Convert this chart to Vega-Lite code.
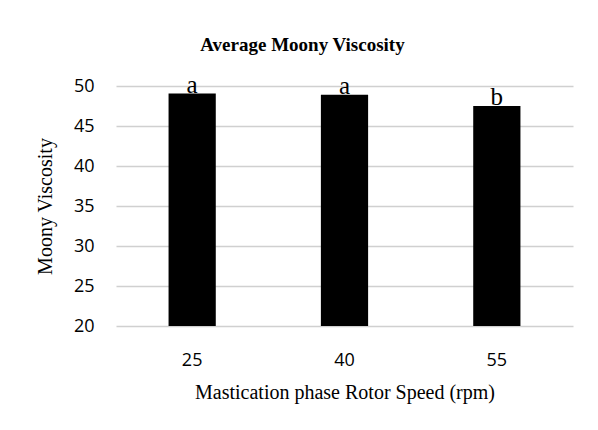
{
  "$schema": "https://vega.github.io/schema/vega-lite/v6.json",
  "width": 457,
  "height": 240,
  "autosize": {"type": "none"},
  "padding": {"left": 116, "top": 86, "right": 25, "bottom": 104},
  "background": "white",
  "title": {
    "text": "Average Moony Viscosity",
    "font": "Liberation Serif",
    "fontSize": 19,
    "fontWeight": "bold",
    "color": "#000000",
    "anchor": "middle",
    "dx": -42,
    "offset": 18
  },
  "data": {
    "values": [
      {"speed": "25", "viscosity": 49.05, "group": "a"},
      {"speed": "40", "viscosity": 48.9, "group": "a"},
      {"speed": "55", "viscosity": 47.5, "group": "b"}
    ]
  },
  "encoding": {
    "x": {
      "field": "speed",
      "type": "nominal",
      "sort": null,
      "scale": {"paddingInner": 0.69, "paddingOuter": 0.345},
      "axis": {
        "title": "Mastication phase Rotor Speed (rpm)",
        "titleFont": "Liberation Serif",
        "titleFontSize": 20,
        "titleFontWeight": "normal",
        "titleColor": "#000000",
        "titlePadding": 13,
        "labelFont": "Open Sans",
        "labelFontSize": 18,
        "labelColor": "#000000",
        "labelAngle": 0,
        "labelPadding": 25,
        "ticks": false,
        "domain": false
      }
    },
    "y": {
      "field": "viscosity",
      "type": "quantitative",
      "scale": {"domain": [20, 50], "zero": false, "nice": false, "clamp": true},
      "axis": {
        "title": "Moony Viscosity",
        "titleFont": "Liberation Serif",
        "titleFontSize": 20,
        "titleFontWeight": "normal",
        "titleColor": "#000000",
        "titlePadding": 18,
        "labelFont": "Open Sans",
        "labelFontSize": 18,
        "labelColor": "#000000",
        "labelPadding": 22,
        "values": [20, 25, 30, 35, 40, 45, 50],
        "ticks": false,
        "domain": false,
        "grid": true,
        "gridColor": "#d0d0d0",
        "gridWidth": 1.5
      }
    }
  },
  "layer": [
    {"mark": {"type": "bar", "color": "#000000"}},
    {
      "mark": {
        "type": "text",
        "baseline": "alphabetic",
        "dy": -1,
        "font": "Liberation Serif",
        "fontSize": 25,
        "color": "#000000"
      },
      "encoding": {"text": {"field": "group"}}
    }
  ],
  "config": {"view": {"stroke": null}}
}
